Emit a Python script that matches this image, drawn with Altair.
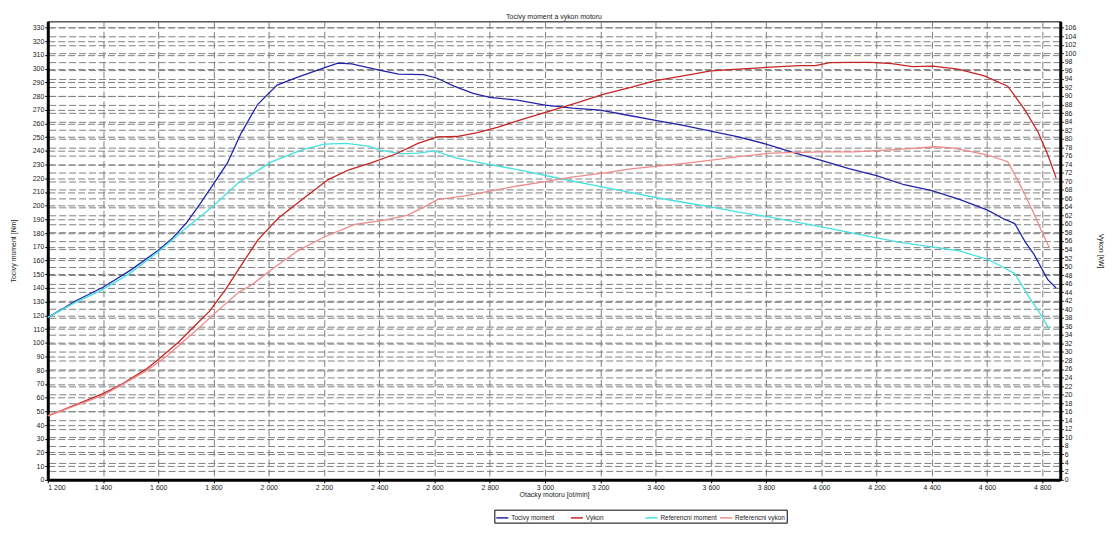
import pandas as pd
import altair as alt

# ------- readings from the dyno sheet --------
torque_rpm = [1200, 1260, 1300, 1400, 1500, 1600, 1650, 1700, 1750, 1800, 1850, 1900, 1960, 2030,
              2100, 2200, 2250, 2300, 2400, 2470, 2560, 2610, 2670, 2740, 2800, 2900, 3000, 3100,
              3200, 3300, 3400, 3500, 3600, 3700, 3800, 3900, 4000, 4100, 4200, 4300, 4400, 4500,
              4600, 4660, 4700, 4740, 4770, 4820, 4850]
torque_nm = [118.5, 125.5, 130.5, 140.5, 153, 167.5, 176, 187, 201, 216, 231, 253, 274, 288,
             293.5, 300.5, 304, 303.5, 299, 296, 295.6, 293, 287.3, 282, 279, 277, 273.4, 271.2,
             269.7, 266, 262.2, 258.6, 254.5, 250.2, 245, 238.7, 233, 227, 222, 215.3, 211, 204.6,
             197, 190.5, 187, 173, 164.5, 146, 140]

ref_torque_rpm = [1200, 1300, 1400, 1500, 1600, 1690, 1800, 1890, 2010, 2120, 2200, 2280, 2360,
                  2400, 2480, 2540, 2600, 2680, 2800, 2920, 3040, 3160, 3280, 3400, 3520, 3600,
                  3700, 3800, 3940, 4060, 4150, 4280, 4400, 4500, 4600, 4650, 4700, 4750, 4790, 4825]
ref_torque_nm = [118.5, 129.5, 139, 151, 166.5, 182, 200, 216.8, 232, 240.7, 245, 245.5, 243.5,
                 240.7, 237.8, 238.3, 240, 234.7, 230, 225.6, 220.4, 215.6, 210.8, 206, 201.8, 199.2,
                 195.3, 192.2, 187, 182.2, 178.6, 173.4, 170, 167, 161, 156, 150.5, 134, 122, 110]

power_rpm = [1200, 1300, 1400, 1470, 1555, 1600, 1675, 1735, 1785, 1845, 1890, 1960, 2035, 2100,
             2130, 2215, 2290, 2370, 2460, 2540, 2610, 2680, 2755, 2830, 2920, 3020, 3115, 3210,
             3310, 3400, 3500, 3600, 3700, 3800, 3920, 3980, 4030, 4100, 4180, 4255, 4330, 4405,
             4495, 4590, 4675, 4735, 4785, 4820, 4850]
power_kw = [15.0, 17.6, 20.2, 22.5, 25.9, 28.2, 32.4, 36.3, 39.5, 44.8, 49.3, 56.2, 61.4, 64.7,
            66.2, 70.4, 72.7, 74.3, 76.4, 78.9, 80.4, 80.5, 81.4, 82.7, 84.6, 86.5, 88.4, 90.4,
            92, 93.6, 94.7, 95.9, 96.3, 96.7, 97.1, 97.1, 97.8, 97.9, 97.9, 97.6, 96.9, 97,
            96.3, 94.7, 92.3, 86.9, 81.5, 76.2, 70.8]

ref_power_rpm = [1200, 1400, 1555, 1630, 1690, 1750, 1800, 1890, 1940, 2010, 2107, 2203, 2311,
                 2410, 2500, 2560, 2610, 2710, 2800, 2900, 3000, 3090, 3210, 3310, 3400, 3520,
                 3610, 3700, 3820, 4000, 4120, 4280, 4410, 4480, 4600, 4675, 4725, 4765, 4800, 4825]
ref_power_kw = [15.0, 19.8, 25.5, 29, 32.4, 35.8, 38.8, 43.9, 45.8, 49.3, 53.8, 57, 59.9,
                60.8, 62, 63.9, 65.7, 66.6, 67.7, 68.9, 69.9, 70.9, 71.9, 72.9, 73.5, 74.3,
                75, 75.8, 76.6, 76.9, 76.9, 77.5, 78.1, 77.8, 76.2, 74.6, 68.5, 63.1, 58, 54.5]

series_names = ["Tocivy moment", "Vykon", "Referencni moment", "Referencni vykon"]
series_colors = ["#2424aa", "#c82424", "#44e2e2", "#ee8c8c"]

x_ticks = list(range(1200, 4801, 200))
nm_ticks = list(range(0, 331, 10))
kw_ticks = list(range(0, 107, 2))


def long_df(name, rpm, vals):
    return pd.DataFrame({"rpm": rpm, "value": vals, "series": name, "order": range(len(rpm))})


df = pd.concat([
    long_df("Tocivy moment", torque_rpm, torque_nm),
    long_df("Referencni moment", ref_torque_rpm, ref_torque_nm),
    long_df("Vykon", power_rpm, power_kw),
    long_df("Referencni vykon", ref_power_rpm, ref_power_kw),
])

grid_dash = [7, 3]

x_enc = alt.X("rpm:Q", title="Otacky motoru [ot/min]",
              scale=alt.Scale(domain=[1200, 4865], nice=False, zero=False),
              axis=alt.Axis(values=x_ticks, grid=True, gridDash=grid_dash,
                            labelExpr="replace(format(datum.value, ','), ',', ' ')",
                            titlePadding=0, labelPadding=1))

color_enc = alt.Color("series:N", title=None,
                      scale=alt.Scale(domain=series_names, range=series_colors),
                      legend=alt.Legend(orient="none", legendX=449, legendY=491,
                                        direction="horizontal", columns=4,
                                        gridAlign="all", columnPadding=0,
                                        symbolType="stroke", symbolSize=144,
                                        symbolStrokeWidth=1.5, labelFontSize=6.5,
                                        labelOffset=2, strokeColor="black",
                                        padding=1, labelLimit=200))

base = alt.Chart(df)

torque = base.transform_filter(
    alt.FieldOneOfPredicate(field="series", oneOf=["Tocivy moment", "Referencni moment"])
).mark_line(strokeWidth=1.3).encode(
    x=x_enc,
    y=alt.Y("value:Q", title="Tocivy moment [Nm]",
            scale=alt.Scale(domain=[0, 334.5], nice=False),
            axis=alt.Axis(orient="left", values=nm_ticks, grid=True, gridDash=grid_dash,
                          titleX=-31, labelPadding=1)),
    color=color_enc,
    order="order:Q",
)

power = base.transform_filter(
    alt.FieldOneOfPredicate(field="series", oneOf=["Vykon", "Referencni vykon"])
).mark_line(strokeWidth=1.3).encode(
    x=x_enc,
    y=alt.Y("value:Q", title="Vykon [kW]",
            scale=alt.Scale(domain=[0, 107.5], nice=False),
            axis=alt.Axis(orient="right", values=kw_ticks, grid=True, gridDash=grid_dash,
                          titleX=37, labelPadding=1)),
    color=color_enc,
    order="order:Q",
)

chart = alt.layer(torque, power).resolve_scale(y="independent").properties(
    width=1018,
    height=461,
    title="Tocivy moment a vykon motoru",
    autosize=alt.AutoSizeParams(type="none"),
    padding={"left": 40, "top": 12, "right": 45, "bottom": 50},
).configure_view(
    stroke="black", strokeWidth=1
).configure_axis(
    labelFont="Liberation Sans", labelFontSize=7, labelColor="#222",
    titleFont="Liberation Sans", titleFontSize=7, titleFontWeight="normal", titleColor="#222",
    domainColor="black", domainWidth=3, tickColor="black", tickSize=3,
    gridColor="#808080", gridOpacity=1, gridWidth=1,
).configure_legend(
    labelFont="Liberation Sans", labelColor="#222",
).configure_title(
    font="Liberation Sans", fontSize=7, fontWeight="normal", color="#222", offset=1,
)

chart.save("out.html", embed_options={"renderer": "svg", "actions": False})
